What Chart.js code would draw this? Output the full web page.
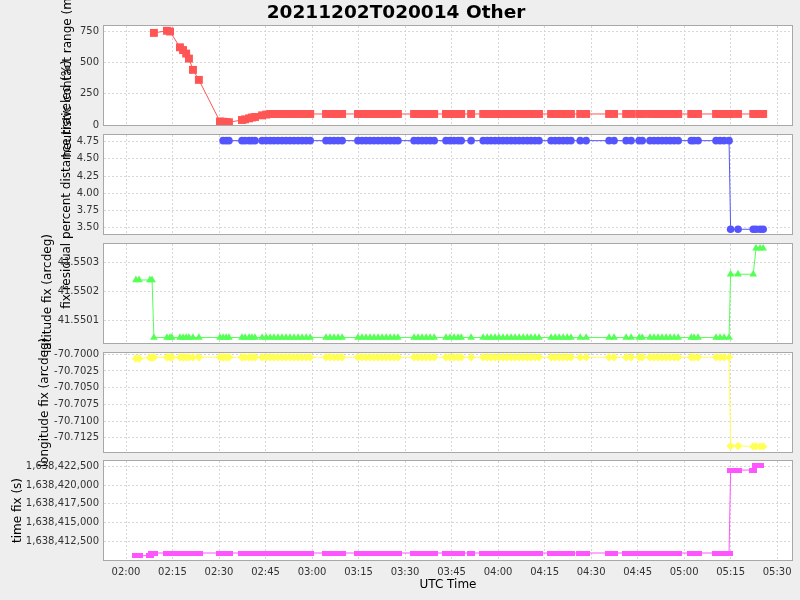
<!DOCTYPE html>
<html>
<head>
<meta charset="utf-8">
<script src="https://cdn.jsdelivr.net/npm/chart.js@4.4.0/dist/chart.umd.min.js"></script>
<style>
  html, body { margin: 0; padding: 0; background: #eeeeee; }
  #wrap { position: relative; width: 800px; height: 600px; }
  #wrap canvas { position: absolute; left: 0; top: 0; }
</style>
</head>
<body>
<div id="wrap">
  <canvas id="c1" width="800" height="600"></canvas>
  <canvas id="c2" width="800" height="600"></canvas>
  <canvas id="c3" width="800" height="600"></canvas>
  <canvas id="c4" width="800" height="600"></canvas>
  <canvas id="c5" width="800" height="600"></canvas>
</div>
<script>
// observation times, minutes after 00:00 UTC (one row per cluster of fixes)
const fixTimes = [
  123.2, 124.2,
  127.7, 128.4, 129.0,
  133.2, 134.2, 134.8,
  137.4, 138.4, 139.4, 140.3, 141.6, 143.5,
  150.3, 151.3, 152.3, 153.2,
  157.4, 158.4, 159.7, 160.6, 161.6,
  163.9, 165.2, 166.5, 167.7, 169.0, 170.3, 171.6, 172.9, 174.2, 175.5, 176.8, 178.1, 179.4,
  184.5, 185.8, 187.1, 188.4, 189.7,
  194.8, 196.1, 197.4, 198.7, 200.0, 201.3, 202.6, 203.9, 205.2, 206.5, 207.7,
  212.9, 214.2, 215.5, 216.8, 218.1, 219.4,
  223.2, 224.5, 225.8, 227.1, 228.1,
  231.3,
  235.2, 236.5, 237.7, 239.0, 240.3, 241.6, 242.9, 244.2, 245.5, 246.8, 248.1, 249.4, 250.6, 251.9, 253.2,
  257.1, 258.4, 259.7, 261.0, 262.3, 263.5,
  266.5, 268.4,
  275.8, 277.4,
  281.3, 282.9,
  285.5, 286.5,
  289.0, 290.3, 291.6, 292.9, 294.2, 295.5, 296.8, 298.1,
  302.3, 303.2, 304.5,
  310.3, 311.6, 312.9, 314.5, 315.0, 317.4,
  322.3, 323.2, 324.5, 325.5
];

const rangeM = [
  null, null,
  null, null, 735,
  752, 746, null,
  620, 598, 570, 530, 440, 360,
  28, 26, 24, 22,
  40, 45, 53, 60, 64,
  77, 83, 88, 88, 88, 88, 88, 88, 88, 88, 88, 88, 88,
  88, 88, 88, 88, 88,
  88, 88, 88, 88, 88, 88, 88, 88, 88, 88, 88,
  88, 88, 88, 88, 88, 88,
  88, 88, 88, 88, 88,
  88,
  88, 88, 88, 88, 88, 88, 88, 88, 88, 88, 88, 88, 88, 88, 88,
  88, 88, 88, 88, 88, 88,
  88, 88,
  88, 88,
  88, 88,
  88, 88,
  88, 88, 88, 88, 88, 88, 88, 88,
  88, 88, 88,
  88, 88, 88, 88, 88, 88,
  88, 88, 88, 88
];

const pctTravel = [
  null, null,
  null, null, null,
  null, null, null,
  null, null, null, null, null, null,
  null, 4.765, 4.765, 4.765,
  4.765, 4.765, 4.765, 4.765, 4.765,
  4.765, 4.765, 4.765, 4.765, 4.765, 4.765, 4.765, 4.765, 4.765, 4.765, 4.765, 4.765, 4.765,
  4.765, 4.765, 4.765, 4.765, 4.765,
  4.765, 4.765, 4.765, 4.765, 4.765, 4.765, 4.765, 4.765, 4.765, 4.765, 4.765,
  4.765, 4.765, 4.765, 4.765, 4.765, 4.765,
  4.765, 4.765, 4.765, 4.765, 4.765,
  4.765,
  4.765, 4.765, 4.765, 4.765, 4.765, 4.765, 4.765, 4.765, 4.765, 4.765, 4.765, 4.765, 4.765, 4.765, 4.765,
  4.765, 4.765, 4.765, 4.765, 4.765, 4.765,
  4.765, 4.765,
  4.765, 4.765,
  4.765, 4.765,
  4.765, 4.765,
  4.765, 4.765, 4.765, 4.765, 4.765, 4.765, 4.765, 4.765,
  4.765, 4.765, 4.765,
  4.765, 4.765, 4.765, 4.765, 3.477, 3.477,
  3.477, 3.477, 3.477, 3.477
];

const latFix = [
  41.55024, 41.55024,
  41.55024, 41.55024, 41.55004,
  41.55004, 41.55004, 41.55004,
  41.55004, 41.55004, 41.55004, 41.55004, 41.55004, 41.55004,
  41.55004, 41.55004, 41.55004, 41.55004,
  41.55004, 41.55004, 41.55004, 41.55004, 41.55004,
  41.55004, 41.55004, 41.55004, 41.55004, 41.55004, 41.55004, 41.55004, 41.55004, 41.55004, 41.55004, 41.55004, 41.55004, 41.55004,
  41.55004, 41.55004, 41.55004, 41.55004, 41.55004,
  41.55004, 41.55004, 41.55004, 41.55004, 41.55004, 41.55004, 41.55004, 41.55004, 41.55004, 41.55004, 41.55004,
  41.55004, 41.55004, 41.55004, 41.55004, 41.55004, 41.55004,
  41.55004, 41.55004, 41.55004, 41.55004, 41.55004,
  41.55004,
  41.55004, 41.55004, 41.55004, 41.55004, 41.55004, 41.55004, 41.55004, 41.55004, 41.55004, 41.55004, 41.55004, 41.55004, 41.55004, 41.55004, 41.55004,
  41.55004, 41.55004, 41.55004, 41.55004, 41.55004, 41.55004,
  41.55004, 41.55004,
  41.55004, 41.55004,
  41.55004, 41.55004,
  41.55004, 41.55004,
  41.55004, 41.55004, 41.55004, 41.55004, 41.55004, 41.55004, 41.55004, 41.55004,
  41.55004, 41.55004, 41.55004,
  41.55004, 41.55004, 41.55004, 41.55004, 41.55026, 41.55026,
  41.55026, 41.55035, 41.55035, 41.55035
];

const lonFix = [
  -70.70063, -70.70063,
  -70.7005, -70.7005, -70.70045,
  -70.70045, -70.70045, -70.70045,
  -70.70045, -70.70045, -70.70045, -70.70045, -70.70045, -70.70045,
  -70.70045, -70.70045, -70.70045, -70.70045,
  -70.70045, -70.70045, -70.70045, -70.70045, -70.70045,
  -70.70045, -70.70045, -70.70045, -70.70045, -70.70045, -70.70045, -70.70045, -70.70045, -70.70045, -70.70045, -70.70045, -70.70045, -70.70045,
  -70.70045, -70.70045, -70.70045, -70.70045, -70.70045,
  -70.70045, -70.70045, -70.70045, -70.70045, -70.70045, -70.70045, -70.70045, -70.70045, -70.70045, -70.70045, -70.70045,
  -70.70045, -70.70045, -70.70045, -70.70045, -70.70045, -70.70045,
  -70.70045, -70.70045, -70.70045, -70.70045, -70.70045,
  -70.70045,
  -70.70045, -70.70045, -70.70045, -70.70045, -70.70045, -70.70045, -70.70045, -70.70045, -70.70045, -70.70045, -70.70045, -70.70045, -70.70045, -70.70045, -70.70045,
  -70.70045, -70.70045, -70.70045, -70.70045, -70.70045, -70.70045,
  -70.70045, -70.70045,
  -70.70045, -70.70045,
  -70.70045, -70.70045,
  -70.70045, -70.70045,
  -70.70045, -70.70045, -70.70045, -70.70045, -70.70045, -70.70045, -70.70045, -70.70045,
  -70.70045, -70.70045, -70.70045,
  -70.70045, -70.70045, -70.70045, -70.70045, -70.71374, -70.71374,
  -70.7138, -70.7138, -70.7138, -70.7138
];

const timeFix = [
  1638410580, 1638410580,
  1638410580, 1638410940, 1638410940,
  1638410940, 1638410940, 1638410940,
  1638410940, 1638410940, 1638410940, 1638410940, 1638410940, 1638410940,
  1638410940, 1638410940, 1638410940, 1638410940,
  1638410940, 1638410940, 1638410940, 1638410940, 1638410940,
  1638410940, 1638410940, 1638410940, 1638410940, 1638410940, 1638410940, 1638410940, 1638410940, 1638410940, 1638410940, 1638410940, 1638410940, 1638410940,
  1638410940, 1638410940, 1638410940, 1638410940, 1638410940,
  1638410940, 1638410940, 1638410940, 1638410940, 1638410940, 1638410940, 1638410940, 1638410940, 1638410940, 1638410940, 1638410940,
  1638410940, 1638410940, 1638410940, 1638410940, 1638410940, 1638410940,
  1638410940, 1638410940, 1638410940, 1638410940, 1638410940,
  1638410940,
  1638410940, 1638410940, 1638410940, 1638410940, 1638410940, 1638410940, 1638410940, 1638410940, 1638410940, 1638410940, 1638410940, 1638410940, 1638410940, 1638410940, 1638410940,
  1638410940, 1638410940, 1638410940, 1638410940, 1638410940, 1638410940,
  1638410940, 1638410940,
  1638410940, 1638410940,
  1638410940, 1638410940,
  1638410940, 1638410940,
  1638410940, 1638410940, 1638410940, 1638410940, 1638410940, 1638410940, 1638410940, 1638410940,
  1638410940, 1638410940, 1638410940,
  1638410940, 1638410940, 1638410940, 1638410940, 1638422000, 1638422000,
  1638422000, 1638422550, 1638422550, null
];

const utcTicks = ['02:00', '02:15', '02:30', '02:45', '03:00', '03:15', '03:30',
  '03:45', '04:00', '04:15', '04:30', '04:45', '05:00', '05:15', '05:30'];
const rangeTicks = [0, 250, 500, 750];
const pctTicks = [3.5, 3.75, 4.0, 4.25, 4.5, 4.75];
const latTicks = [41.5501, 41.5502, 41.5503];
const lonTicks = [-70.7125, -70.71, -70.7075, -70.705, -70.7025, -70.7];
const timeTicks = [1638412500, 1638415000, 1638417500, 1638420000, 1638422500];

Chart.defaults.font.family = "'DejaVu Sans', sans-serif";
const gridColor = '#d6d6d6';

function toMinutes(s) {
  const [h, m] = s.split(':').map(Number);
  return h * 60 + m;
}
function fmtClock(v) {
  const h = Math.floor(v / 60), m = Math.round(v - h * 60);
  return String(h).padStart(2, '0') + ':' + String(m).padStart(2, '0');
}

// white plot background, grey outline and the rotated axis label
const panelFrame = {
  id: 'panelFrame',
  beforeDraw(chart) {
    const a = chart.chartArea, ctx = chart.ctx;
    ctx.save();
    ctx.fillStyle = '#ffffff';
    ctx.fillRect(a.left, a.top, a.right - a.left, a.bottom - a.top);
    ctx.restore();
  },
  afterDraw(chart, args, opts) {
    const a = chart.chartArea, ctx = chart.ctx;
    ctx.save();
    ctx.strokeStyle = '#a8a8a8';
    ctx.lineWidth = 1;
    ctx.strokeRect(a.left - 0.5, a.top - 0.5, a.right - a.left + 1, a.bottom - a.top + 1);
    ctx.translate(opts.labelX, (a.top + a.bottom) / 2);
    ctx.rotate(-Math.PI / 2);
    ctx.font = "12px 'DejaVu Sans', sans-serif";
    ctx.fillStyle = '#000';
    ctx.textAlign = 'center';
    ctx.textBaseline = 'middle';
    ctx.fillText(opts.label, 0, 0);
    ctx.restore();
  }
};

function xAxis(bottom) {
  return {
    type: 'linear',
    min: 112.9,
    max: 334.8,
    afterFit(s) { s.height = bottom ? 40 : 0; },
    afterBuildTicks(s) { s.ticks = utcTicks.map(t => ({ value: toMinutes(t) })); },
    ticks: {
      display: bottom, padding: 6, maxRotation: 0, autoSkip: false,
      color: '#333', font: { size: 10 }, callback: v => fmtClock(v)
    },
    grid: { color: gridColor, drawTicks: false },
    border: { display: false, dash: [2, 2] },
    title: {
      display: bottom, text: 'UTC Time', color: '#000',
      font: { size: 12 }, padding: { top: 0, bottom: 8 }
    }
  };
}

function yAxis(min, max, tickVals, fmt) {
  return {
    min: min,
    max: max,
    afterFit(s) { s.width = 104; },
    afterBuildTicks(s) { s.ticks = tickVals.map(v => ({ value: v })); },
    ticks: { padding: 5, color: '#333', font: { size: 10 }, callback: fmt },
    grid: { color: gridColor, drawTicks: false },
    border: { display: false, dash: [2, 2] }
  };
}

const hbar = document.createElement('canvas');
hbar.width = 8;
hbar.height = 5;
const hctx = hbar.getContext('2d');
hctx.fillStyle = '#ff55ff';
hctx.fillRect(0, 0, 8, 5);

function makePanel(id, o) {
  return new Chart(document.getElementById(id), {
    type: 'line',
    data: {
      datasets: [{
        data: fixTimes.map((t, i) => ({ x: t, y: o.values[i] })),
        borderColor: o.color,
        backgroundColor: o.color,
        borderWidth: 1,
        tension: 0,
        spanGaps: true,
        pointStyle: o.shape,
        pointRadius: o.radius,
        pointBorderWidth: 0,
        pointBackgroundColor: o.color
      }]
    },
    options: {
      responsive: false,
      animation: false,
      events: [],
      layout: { padding: { top: o.top, bottom: o.bottom, left: 0, right: 8 } },
      scales: { x: xAxis(o.timeAxis), y: o.y },
      plugins: {
        legend: { display: false },
        tooltip: { enabled: false },
        title: o.title || { display: false },
        panelFrame: { label: o.label, labelX: o.labelX }
      }
    },
    plugins: [panelFrame]
  });
}

makePanel('c1', {
  values: rangeM, color: '#ff5555', shape: 'rect', radius: 5.6,
  top: 0, bottom: 475, timeAxis: false,
  y: yAxis(0, 790, rangeTicks, v => String(v)),
  label: 'heuristic contact range (m)', labelX: 68,
  title: {
    display: true, text: '20211202T020014 Other', color: '#000',
    font: { size: 18.5, weight: 'bold' }, padding: { top: 2.5, bottom: 1.3 }
  }
});

makePanel('c2', {
  values: pctTravel, color: '#5555ff', shape: 'circle', radius: 3.8,
  top: 135, bottom: 366, timeAxis: false,
  y: yAxis(3.408, 4.847, pctTicks, v => Number(v).toFixed(2)),
  label: 'fix residual percent distance traveled (%)', labelX: 67
});

makePanel('c3', {
  values: latFix, color: '#55ff55', shape: 'triangle', radius: 4.4,
  top: 244, bottom: 257, timeAxis: false,
  y: yAxis(41.550021, 41.550365, latTicks, v => Number(v).toFixed(4)),
  label: 'latitude fix (arcdeg)', labelX: 48
});

makePanel('c4', {
  values: lonFix, color: '#ffff55', shape: 'rectRot', radius: 4.2,
  top: 353, bottom: 148, timeAxis: false,
  y: yAxis(-70.714643, -70.699805, lonTicks, v => Number(v).toFixed(4)),
  label: 'longitude fix (arcdeg)', labelX: 45
});

makePanel('c5', {
  values: timeFix, color: '#ff55ff', shape: hbar, radius: 4,
  top: 461, bottom: 0, timeAxis: true,
  y: yAxis(1638410007, 1638423207, timeTicks, v => Number(v).toLocaleString('en-US')),
  label: 'time fix (s)', labelX: 18
});
</script>
</body>
</html>
